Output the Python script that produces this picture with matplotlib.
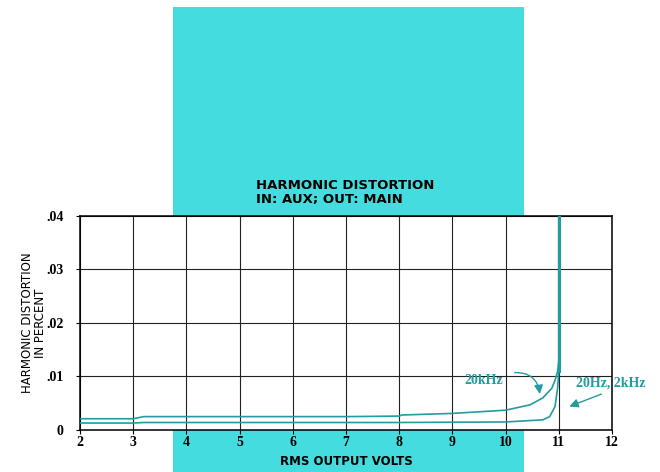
import matplotlib
matplotlib.use("Agg")
import matplotlib.pyplot as plt
from matplotlib.patches import Rectangle

# upper curve (20kHz)
v_20k = [2, 3, 3.2, 4, 5, 6, 7, 8, 8.05, 9, 10, 10.46, 10.7, 10.87, 10.93, 10.98, 11, 11]
d_20k = [0.0021, 0.0021, 0.0025, 0.0025, 0.0025, 0.0025, 0.0025, 0.0026, 0.0028,
         0.0031, 0.0037, 0.0047, 0.0060, 0.0078, 0.0093, 0.0110, 0.0130, 0.04]
# lower curve (20Hz, 2kHz)
v_2k = [2, 3, 3.2, 5, 8, 10, 10.7, 10.83, 10.93, 10.98, 11, 11]
d_2k = [0.0013, 0.0013, 0.0014, 0.0014, 0.0014, 0.0015, 0.0019, 0.0025, 0.0044,
        0.0080, 0.0110, 0.04]

x_ticks = [2, 3, 4, 5, 6, 7, 8, 9, 10, 11, 12]
y_ticks = [0, 0.01, 0.02, 0.03, 0.04]
y_tick_labels = ["0", ".01", ".02", ".03", ".04"]

cyan = "#45dcdf"
teal = "#229c9f"

fig = plt.figure(figsize=(6.6, 4.72), dpi=100)
fig.patches.append(Rectangle((0.262, 0), 0.532, 0.985, transform=fig.transFigure,
                             facecolor=cyan, edgecolor="none", zorder=-5))

ax = fig.add_axes([0.1212, 0.089, 0.806, 0.4534])
ax.set_zorder(2)
ax.set_facecolor("white")
ax.set_xlim(2, 12)
ax.set_ylim(0, 0.04)
ax.set_xticks(x_ticks)
ax.set_yticks(y_ticks)
ax.set_xticklabels([str(t) for t in x_ticks], fontfamily="Liberation Serif",
                   fontweight="bold", fontsize=10)
ax.set_yticklabels(y_tick_labels, fontfamily="Liberation Serif",
                   fontweight="bold", fontsize=10)
ax.grid(True, color="#222222", linewidth=0.8)
ax.set_axisbelow(True)
ax.tick_params(length=3, width=0.8, direction="out")
ax.tick_params(axis="x", pad=1)
ax.tick_params(axis="y", pad=9)
for s in ax.spines.values():
    s.set_linewidth(1.1)

ax.plot(v_20k, d_20k, color=teal, linewidth=1.2, zorder=3)
ax.plot(v_2k, d_2k, color=teal, linewidth=1.2, zorder=3)
ax.plot([11, 11], [0.011, 0.04], color=teal, linewidth=2.2, zorder=3)

ax.text(9.22, 0.0093, "20kHz", color=teal, fontsize=10,
        fontfamily="Liberation Serif", fontweight="bold", va="center")
ax.annotate("", xy=(10.65, 0.0062), xytext=(10.12, 0.0107),
            arrowprops=dict(arrowstyle="-|>", color=teal, lw=1.0,
                            mutation_scale=13,
                            connectionstyle="arc3,rad=-0.5"))
ax.text(11.32, 0.0088, "20Hz, 2kHz", color=teal, fontsize=10,
        fontfamily="Liberation Serif", fontweight="bold", va="center",
        clip_on=False)
ax.annotate("", xy=(11.15, 0.0042), xytext=(11.85, 0.0069),
            arrowprops=dict(arrowstyle="-|>", color=teal, lw=1.0,
                            mutation_scale=13),
            annotation_clip=False)

fig.text(0.388, 0.592, "HARMONIC DISTORTION\nIN: AUX; OUT: MAIN",
         fontsize=9.5, fontweight="bold", fontfamily="DejaVu Sans",
         ha="left", va="center", linespacing=1.05)
ax.set_ylabel("HARMONIC DISTORTION\nIN PERCENT", fontsize=8.5,
              fontfamily="DejaVu Sans", linespacing=1.0)
ax.yaxis.set_label_coords(-0.062, 0.5)
ax.set_xlabel("RMS OUTPUT VOLTS", fontsize=8.5, fontweight="bold",
              fontfamily="DejaVu Sans", labelpad=5)

fig.savefig("out.png", dpi=100)
